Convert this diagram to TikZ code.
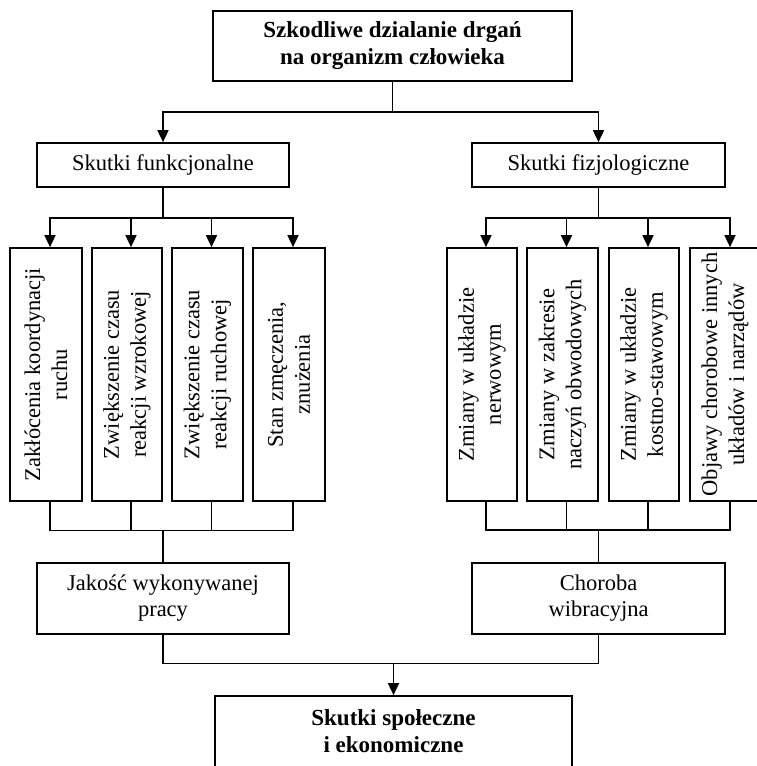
\documentclass[tikz,border=0pt]{standalone}
\usepackage{fontspec}
\setmainfont{Liberation Serif}
\usetikzlibrary{arrows.meta}
\begin{document}
\begin{tikzpicture}[x=1pt,y=-1pt,
  txt/.style={font=\fontsize{22.5}{26}\selectfont},
  box/.style={draw, line width=1.7pt, inner sep=0pt, align=center, txt},
  bbox/.style={box, font=\fontsize{23}{27}\selectfont\bfseries},
  vbox/.style={draw, line width=1.7pt, inner sep=0pt, minimum height=253pt},
  vtext/.style={rotate=90, align=center, inner sep=0pt, font=\fontsize{22.5}{27}\selectfont},
  conn/.style={line width=1.7pt},
  thin/.style={line width=1.2pt},
  arr/.style={line width=1.7pt, -{Triangle[width=11pt,length=12pt]}}]
\useasboundingbox (0,0) rectangle (757,766);
\fill[white] (0,0) rectangle (757,766);

% top box
\node[bbox, minimum width=359pt, minimum height=70pt] (top) at (392.5,46)
  {Szkodliwe dzialanie drgań\\na organizm człowieka};
% second level
\node[box, minimum width=252pt, minimum height=44pt] (sf) at (163,165) {Skutki funkcjonalne};
\node[box, minimum width=253pt, minimum height=44pt] (sz) at (598.5,165) {Skutki fizjologiczne};

% vertical boxes
\node[vbox, minimum width=72pt] (b1) at (46,374.5) {};
\node[vbox, minimum width=70pt] (b2) at (127,374.5) {};
\node[vbox, minimum width=71pt] (b3) at (207.5,374.5) {};
\node[vbox, minimum width=72pt] (b4) at (289,374.5) {};
\node[vbox, minimum width=70pt] (b5) at (482,374.5) {};
\node[vbox, minimum width=71pt] (b6) at (562.5,374.5) {};
\node[vbox, minimum width=70pt] (b7) at (644,374.5) {};
\node[vbox, minimum width=72pt] (b8) at (726,374.5) {};

\node[vtext] (t1) at (b1) {Zakłócenia koordynacji\\ruchu};
\node[vtext] (t2) at (b2) {Zwiększenie czasu\\reakcji wzrokowej};
\node[vtext] (t3) at (b3) {Zwiększenie czasu\\reakcji ruchowej};
\node[vtext] (t4) at (b4) {Stan zmęczenia,\\znużenia};
\node[vtext] (t5) at (b5) {Zmiany w układzie\\nerwowym};
\node[vtext] (t6) at (b6) {Zmiany w zakresie\\naczyń obwodowych};
\node[vtext] (t7) at (b7) {Zmiany w układzie\\kostno-stawowym};
\node[vtext] (t8) at ([xshift=-1pt]b8) {Objawy chorobowe innych\\układów i narządów};

% result boxes
\node[box, minimum width=252pt, minimum height=71pt] (jak) at (163,598.5) {Jakość wykonywanej\\pracy};
\node[box, minimum width=253pt, minimum height=71pt] (chor) at (598.5,598.5) {Choroba\\wibracyjna};
\node[bbox, minimum width=357pt, minimum height=71pt] (spo) at (393.5,731.5) {Skutki społeczne\\i ekonomiczne};

% top connectors
\draw[conn] (top.south) -- ++(0,30) coordinate (tj);
\draw[arr] (tj) -| (sf.north);
\draw[arr] (tj) -| (sz.north);

% functional bus
\draw[conn] (sf.south) -- ++(0,30) coordinate (fj);
\foreach \b in {b1,b2,b3,b4} \draw[arr] (fj) -| ([xshift=4pt]\b.north);
% physiological bus
\draw[conn] (sz.south) -- ++(0,30) coordinate (zj);
\foreach \b in {b5,b6,b7,b8} \draw[arr] (zj) -| ([xshift=4pt]\b.north);

% lower buses
\draw[conn] (jak.north) -- ++(0,-32) coordinate (fb);
\foreach \b in {b1,b2,b3,b4} \draw[thin] ([xshift=4pt]\b.south) |- (fb);
\draw[thin] (chor.north) -- ++(0,-32) coordinate (zb);
\foreach \b in {b5,b6,b7,b8} \draw[conn] ([xshift=4pt]\b.south) |- (zb);

% final connectors
\draw[conn] (jak.south) -- ++(0,29) coordinate (jb);
\draw[thin] (jb) -| (chor.south);
\draw[arr] (jb -| spo.north) -- (spo.north);
\end{tikzpicture}
\end{document}
